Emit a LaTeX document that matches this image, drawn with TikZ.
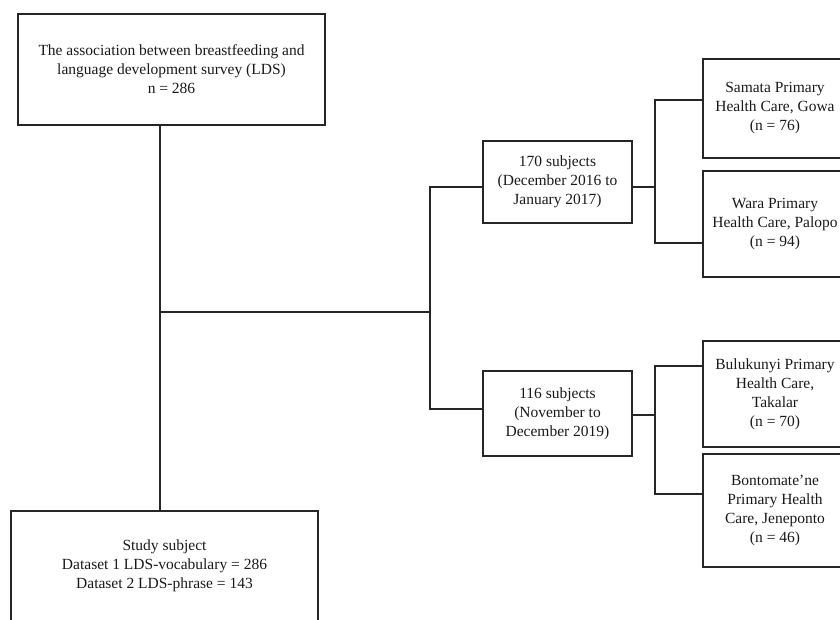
\documentclass[tikz,border=0pt]{standalone}
\usepackage{fontspec}
\setmainfont{Liberation Serif}
\begin{document}
\begin{tikzpicture}[x=1pt,y=-1pt,
  box/.style={draw=black!85, line width=2pt, align=center, inner sep=0pt,
    text=black!90, font=\fontsize{15.5}{19}\selectfont},
  link/.style={draw=black!85, line width=2pt, line join=miter}]
\useasboundingbox (0,0) rectangle (840,619);
\clip (0,0) rectangle (840,619);
\node[box, minimum width=307pt, minimum height=111pt] (top) at (171.5,69.5)
  {The association between breastfeeding and\\language development survey (LDS)\\n = 286};
\node[box, minimum width=307pt, minimum height=110pt] (bot) at (164.5,566)
  {Study subject\\Dataset 1 LDS-vocabulary = 286\\Dataset 2 LDS-phrase = 143};
\node[box, minimum width=149pt, minimum height=82pt] (b170) at (557.5,182)
  {170 subjects\\(December 2016 to\\January 2017)};
\node[box, minimum width=149pt, minimum height=85pt] (b116) at (557.5,413.5)
  {116 subjects\\(November to\\December 2019)};
\node[box, minimum width=144pt, minimum height=99pt] (samata) at (775,108.5)
  {Samata Primary\\Health Care, Gowa\\(n = 76)};
\node[box, minimum width=144pt, minimum height=106pt] (wara) at (775,224)
  {Wara Primary\\Health Care, Palopo\\(n = 94)};
\node[box, minimum width=144pt, minimum height=106pt] (bulu) at (775,394)
  {Bulukunyi Primary\\Health Care,\\Takalar\\(n = 70)};
\node[box, minimum width=144pt, minimum height=113pt] (bonto) at (775,510.5)
  {Bontomate’ne\\Primary Health\\Care, Jeneponto\\(n = 46)};
\coordinate (spine) at (160,312);
\coordinate (split) at (430,312);
\coordinate (j1) at (655,187);
\coordinate (j2) at (655,415);
\draw[link] (spine |- top.south) -- (spine |- bot.north);
\draw[link] (spine) -- (split);
\draw[link] ([yshift=-5pt]b170.west) -| (split) |- ([yshift=4.5pt]b116.west);
\draw[link] ([yshift=-5pt]b170.east) -- (j1);
\draw[link] ([yshift=8.5pt]samata.west) -| (j1) |- ([yshift=-19pt]wara.west);
\draw[link] ([yshift=-1.5pt]b116.east) -- (j2);
\draw[link] ([yshift=28pt]bulu.west) -| (j2) |- ([yshift=16.5pt]bonto.west);
\end{tikzpicture}
\end{document}
